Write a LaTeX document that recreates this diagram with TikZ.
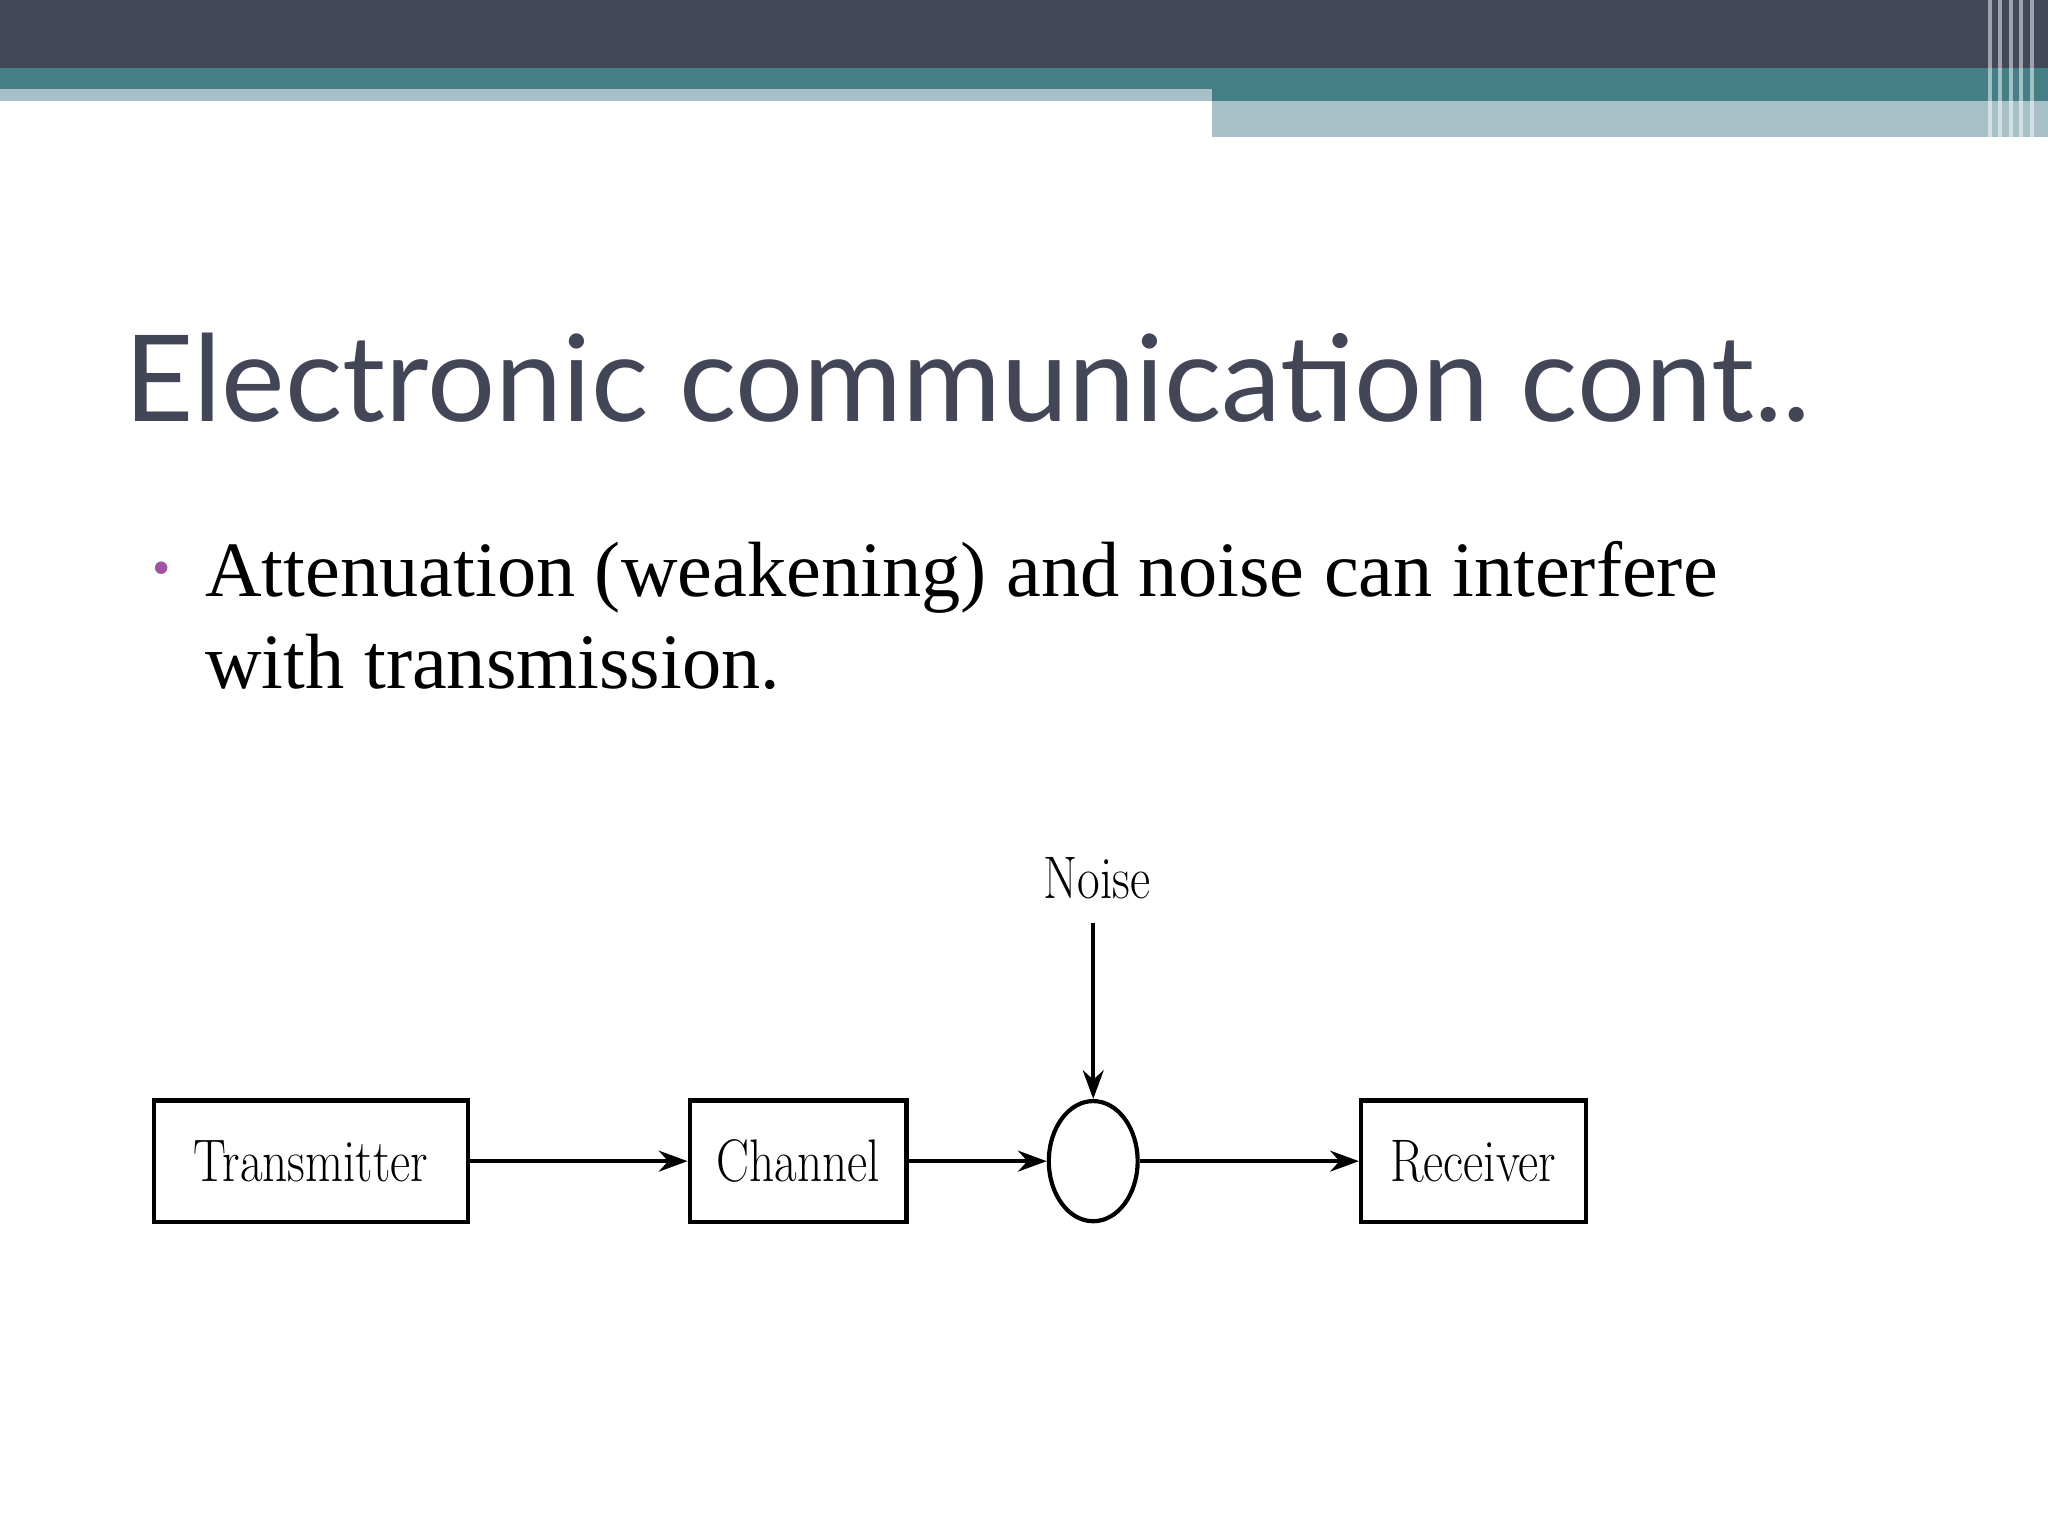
\documentclass[tikz,border=0pt]{standalone}
\usepackage{fontspec}
\setmainfont{Liberation Serif}
\newfontfamily\titlefont{Lato}
\newfontfamily\cmfont{Latin Modern Roman}
\usetikzlibrary{arrows.meta,shapes.geometric}
\definecolor{darkbar}{HTML}{424857}
\definecolor{tealbar}{HTML}{457F86}
\definecolor{lightbar}{HTML}{A7BFC6}
\definecolor{titlecol}{HTML}{434656}
\definecolor{bulletcol}{HTML}{A053A3}
\begin{document}
\begin{tikzpicture}[x=1pt,y=-1pt,
  blk/.style={draw,line width=3.2pt,minimum height=93pt,inner sep=0pt,font=\cmfont\fontsize{46}{46}\selectfont},
  arr/.style={line width=3pt,-{Stealth[length=22pt,width=16pt]}}]
\useasboundingbox (0,0) rectangle (1568,1176);
\fill[white] (0,0) rectangle (1568,1176);
\fill[darkbar] (0,0) rectangle (1568,52);
\fill[tealbar] (0,52) rectangle (1568,68);
\fill[lightbar] (0,68) rectangle (928,77);
\fill[tealbar] (928,68) rectangle (1568,77);
\fill[lightbar] (928,77) rectangle (1568,105);
\foreach \x in {1522,1530,1538,1546,1554}{\fill[white,opacity=0.5] (\x,0) rectangle (\x+3,105);}
\node[anchor=base west,inner sep=0pt,text=titlecol,font=\titlefont\fontsize{92}{92}\selectfont] (title) at (95,323) {Electronic communication cont..};
\node[anchor=base,inner sep=0pt,text=bulletcol,font=\fontsize{40}{40}\selectfont] (bul) at (124,448) {•};
\node[anchor=base west,inner sep=0pt,font=\fontsize{60}{60}\selectfont] (l1) at (157,457) {Attenuation (weakening) and noise can interfere};
\node[anchor=base west,inner sep=0pt,font=\fontsize{60}{60}\selectfont] (l2) at (157,527) {with transmission.};
\node[blk,minimum width=240pt] (tx) at (238,889) {\scalebox{0.82}[1]{Transmitter}};
\node[blk,minimum width=166pt] (ch) at (611,889) {\scalebox{0.82}[1]{Channel}};
\node[draw,line width=3.2pt,ellipse,minimum width=68pt,minimum height=92pt,inner sep=0pt] (sum) at (837,889) {};
\node[blk,minimum width=172pt] (rx) at (1128,889) {\scalebox{0.82}[1]{Receiver}};
\node[inner sep=0pt,font=\cmfont\fontsize{46}{46}\selectfont] (noise) at (840,672) {\scalebox{0.82}[1]{Noise}};
\coordinate (ntop) at (837,707);
\draw[arr] (tx) -- (ch);
\draw[arr] (ch) -- (sum);
\draw[arr] (sum) -- (rx);
\draw[arr] (ntop) -- (sum.north);
\end{tikzpicture}
\end{document}
